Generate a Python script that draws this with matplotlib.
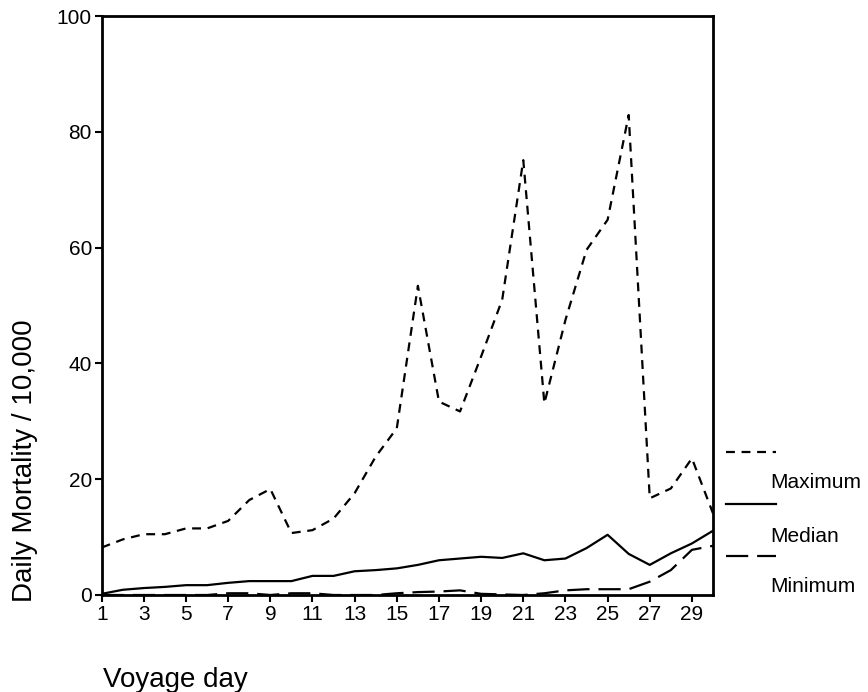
import matplotlib.pyplot as plt
from matplotlib.lines import Line2D
import numpy as np

plt.rcParams['font.family'] = ['Liberation Sans', 'DejaVu Sans']

#%% data
days = np.arange(1, 31)
maximum = [8.2, 9.6, 10.5, 10.5, 11.5, 11.5, 12.8, 16.4, 18.3, 10.7,
           11.2, 13.2, 17.6, 23.9, 28.8, 53.4, 33.4, 31.7, 41.2, 51.0,
           75.1, 33.1, 47.5, 59.6, 64.8, 82.9, 16.7, 18.4, 23.6, 14.1]
median = [0.2, 0.9, 1.2, 1.4, 1.7, 1.7, 2.1, 2.4, 2.4, 2.4,
          3.3, 3.3, 4.1, 4.3, 4.6, 5.2, 6.0, 6.3, 6.6, 6.4,
          7.2, 6.0, 6.3, 8.1, 10.4, 7.1, 5.2, 7.2, 8.9, 11.1]
minimum = [0.0, 0.0, 0.0, 0.0, 0.0, 0.0, 0.3, 0.3, 0.0, 0.3,
           0.3, 0.0, 0.0, 0.0, 0.3, 0.5, 0.6, 0.8, 0.2, 0.1,
           0.0, 0.3, 0.8, 1.0, 1.0, 1.0, 2.3, 4.3, 7.8, 8.5]
xticks = list(range(1, 30, 2))
yticks = [0, 20, 40, 60, 80, 100]

short_dash = (0, (4, 3))
long_dash = (0, (10, 4))

#%%
W, H = 868, 692
fig = plt.figure(figsize=(W / 100, H / 100), dpi=100)
ax = fig.add_axes([101.7 / W, 1 - 595 / H, (713 - 101.7) / W, (595 - 16) / H])

ax.plot(days, maximum, color='k', lw=1.6, linestyle=short_dash)
ax.plot(days, median, color='k', lw=1.6, linestyle='-')
ax.plot(days, minimum, color='k', lw=1.6, linestyle=long_dash)

ax.set_xlim(1, 30)
ax.set_ylim(0, 100)
ax.set_xticks(xticks)
ax.set_yticks(yticks)
ax.tick_params(labelsize=15, direction='out', length=5, width=1.5, pad=2)
for s in ax.spines.values():
    s.set_linewidth(2)

fig.text(25 / W, 1 - 461 / H, 'Daily Mortality / 10,000', rotation=90,
         fontsize=20, ha='center', va='center')
fig.text(103 / W, 1 - 680 / H, 'Voyage day', fontsize=20, ha='left', va='center')

# legend: sample above label, drawn by hand
entries = [('Maximum', short_dash, 452, 483),
           ('Median', '-', 504, 536),
           ('Minimum', long_dash, 556, 586)]
for label, ls, ly, ty in entries:
    fig.add_artist(Line2D([726 / W, 776 / W], [1 - ly / H, 1 - ly / H],
                          color='k', lw=1.6, linestyle=ls))
    fig.text(770 / W, 1 - ty / H, label, fontsize=15, ha='left', va='center')

fig.savefig('out.png', dpi=100)
